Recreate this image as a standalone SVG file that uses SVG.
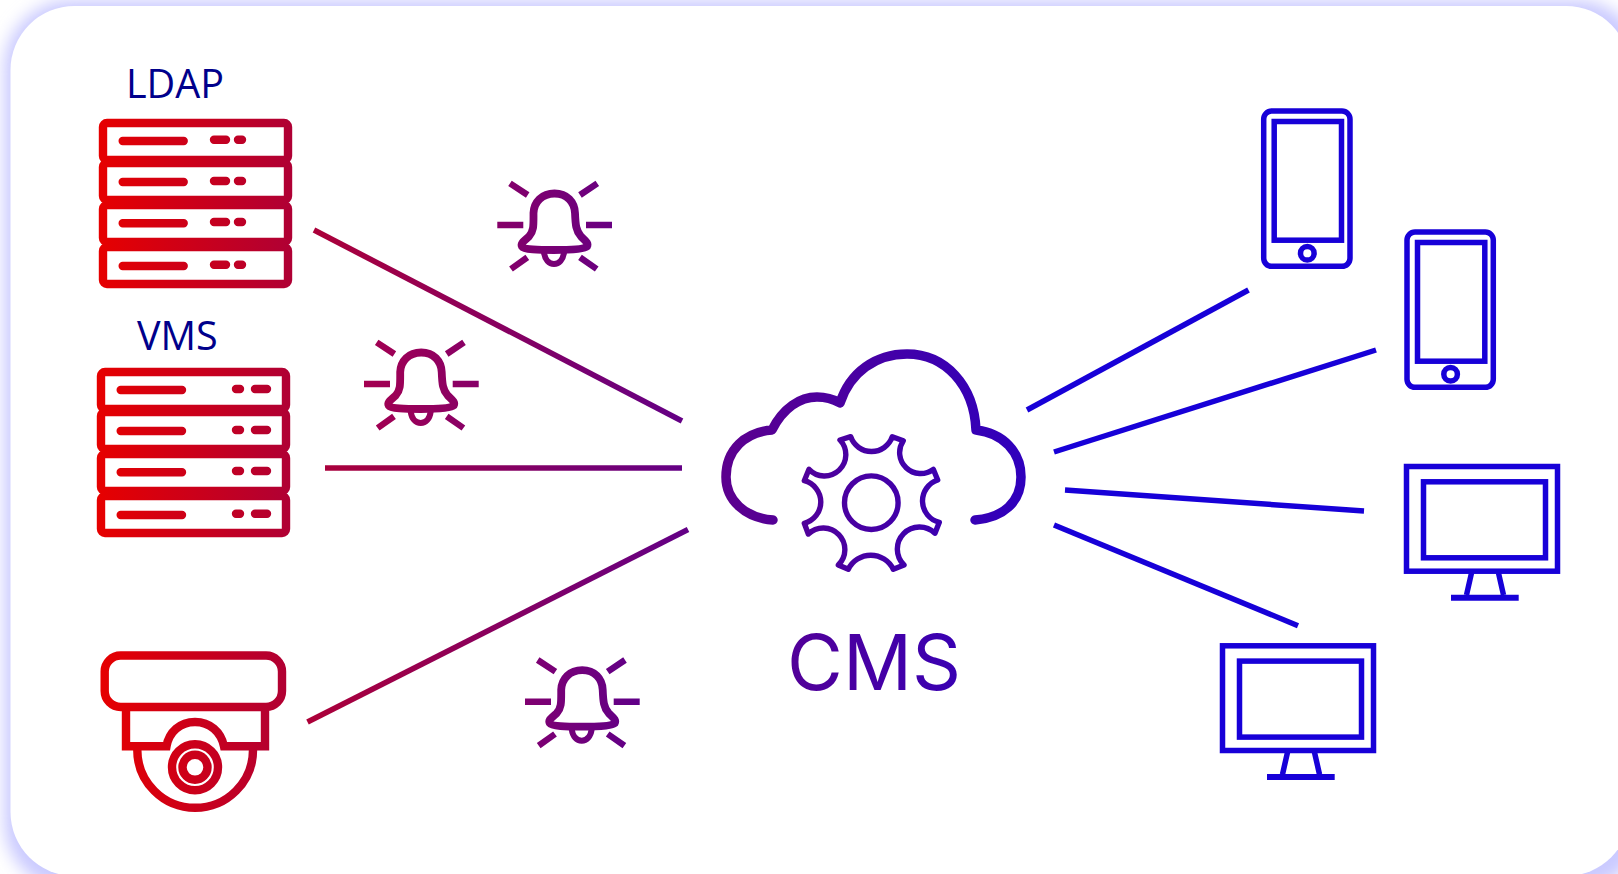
<svg xmlns="http://www.w3.org/2000/svg" width="1618" height="874" viewBox="0 0 1618 874">
<style>
.s{fill:none;stroke:url(#g);stroke-width:8.400;stroke-linejoin:round}
.bar{fill:none;stroke:url(#g);stroke-width:8.400;stroke-linecap:round}
.l{fill:none;stroke:url(#g);stroke-width:5.600}
.c{fill:none;stroke:url(#g);stroke-width:8.400}
.b{fill:none;stroke:#1700d8;stroke-width:5.500}
.bell{fill:none;stroke-width:7.800;stroke-linejoin:round}
.ray{stroke-width:6.400;fill:none}
.lbl{font-family:"Open Sans",sans-serif;font-size:39.500px;fill:#00008b}
</style>
<defs>
<linearGradient id="g" gradientUnits="userSpaceOnUse" x1="99" y1="0" x2="1240" y2="0">
<stop offset="0" stop-color="#e60000"/>
<stop offset=".167" stop-color="#b00034"/>
<stop offset="0.548" stop-color="#5c008e"/>
<stop offset="0.807" stop-color="#3000bc"/>
<stop offset="1" stop-color="#1400dc"/>
</linearGradient>
<linearGradient id="g1" gradientUnits="userSpaceOnUse" x1="497" y1="0" x2="612" y2="0"><stop offset="0" stop-color="#860068"/><stop offset="1" stop-color="#680082"/></linearGradient>
<linearGradient id="g2" gradientUnits="userSpaceOnUse" x1="497" y1="0" x2="612" y2="0"><stop offset="0" stop-color="#a40050"/><stop offset="1" stop-color="#860068"/></linearGradient>
<linearGradient id="g3" gradientUnits="userSpaceOnUse" x1="497" y1="0" x2="612" y2="0"><stop offset="0" stop-color="#800070"/><stop offset="1" stop-color="#600088"/></linearGradient>
<filter id="blur" x="-5%" y="-5%" width="110%" height="110%"><feGaussianBlur stdDeviation="8"/></filter>
<g id="bellshape">
<path class="bell" d="M554.500 193.500C567 193.500 574.500 202 575 213C575.500 225 576 231 581 236.500C585 240.500 589 243 587 246.500C584 249.500 570 250 554 250C538 250 524 249.500 522 246.500C520 243 525 240.500 529 236.500C534 231 533.500 225 533.500 213C534 202 542 193.500 554.500 193.500Z"/>
<path class="bell" style="stroke-width:6" d="M544 252.500C545 260 549 264 554 264C559 264 563 260 564 252.500"/>
<path class="ray" d="M497.300 225H523.300M586 225H612M510 183.300L527.700 195M597.300 183.300L580 195M511 269L527.300 257.300M596.700 269L580 257.300"/>
</g>
<g id="phone">
<rect class="b" x="1263.700" y="111" width="86.300" height="155.300" rx="8"/>
<rect class="b" x="1274.200" y="121.500" width="67.300" height="118.700"/>
<circle class="b" cx="1307.300" cy="253.300" r="6.800"/>
</g>
<g id="monitor">
<rect class="b" x="1406.500" y="466.500" width="151" height="104.700"/>
<rect class="b" x="1423.500" y="481.800" width="122" height="76"/>
<path class="b" d="M1471.500 573L1466.500 595M1498.500 573L1503.500 595"/>
<path class="b" style="stroke-width:6" d="M1451 597.700H1518.700"/>
</g>
</defs>
<rect id="page" width="1618" height="874" fill="#ffffff"/>
<rect id="card-shadow" x="4" y="0" width="1640" height="890" rx="68" fill="#cacaff" filter="url(#blur)"/>
<rect id="card" x="10.500" y="6" width="1619.500" height="870" rx="64" fill="#ffffff"/>

<g id="connectors">
<path class="l" d="M314 230L682 421"/>
<path class="l" d="M325 468H682"/>
<path class="l" d="M307.500 722L688 529.500"/>
<path class="b" d="M1027 410L1248.500 290"/>
<path class="b" d="M1054 452L1376 350"/>
<path class="b" d="M1065 490L1364 511"/>
<path class="b" d="M1054 525L1298 625.700"/>
</g>

<g id="ldap">
<text class="lbl" x="126" y="97.500">LDAP</text>
<rect class="s" x="103" y="123" width="185" height="37" rx="4"/>
<rect class="s" x="103" y="163" width="185" height="37" rx="4"/>
<rect class="s" x="103" y="205" width="185" height="37" rx="4"/>
<rect class="s" x="103" y="247" width="185" height="37" rx="4"/>
<path class="bar" d="M122.700 141H183.700M122.700 182H183.700M122.700 223.300H183.700M122.700 266H183.700"/>
<path class="bar" d="M214 139.700H226M238 139.700H242M214 181H226M238 181H242M214 222H226M238 222H242M214 264.700H226M238 264.700H242"/>
</g>

<g id="vms">
<text class="lbl" x="137" y="350">VMS</text>
<rect class="s" x="101" y="372" width="185" height="37" rx="4"/>
<rect class="s" x="101" y="412" width="185" height="37" rx="4"/>
<rect class="s" x="101" y="454" width="185" height="37" rx="4"/>
<rect class="s" x="101" y="496" width="185" height="37" rx="4"/>
<path class="bar" d="M120.700 390H182M120.700 431H182M120.700 472.300H182M120.700 515H182"/>
<path class="bar" d="M236 389H240M255 389H267M236 430H240M255 430H267M236 471H240M255 471H267M236 513.700H240M255 513.700H267"/>
</g>

<g id="camera">
<rect class="s" x="104.700" y="655.500" width="177.300" height="51.500" rx="16"/>
<path class="c" d="M126 707V746.300H166.500C169 732 180 722 195 722C210 722 221 732 224 746.300H265V707"/>
<path class="c" d="M137.300 750A57.700 57.700 0 0 0 253 750"/>
<circle class="s" cx="195" cy="767.300" r="23"/>
<circle class="s" cx="195" cy="767.300" r="12.500"/>
</g>

<g id="bell-1" stroke="url(#g1)"><use href="#bellshape"/></g>
<g id="bell-2" stroke="url(#g2)" transform="translate(-133.300 159)"><use href="#bellshape"/></g>
<g id="bell-3" stroke="url(#g3)" transform="translate(27.700 476.700)"><use href="#bellshape"/></g>

<g id="cms">
<path class="s" style="stroke-width:9.500;stroke-linecap:round" d="M773 520C745 518 726 500 726 477C726 450 745 432 772 430C783 408 800 397 817 397C825 397 833 399 840 403C850 372 876 354 907 354C945 354 974 385 976 430C1003 433 1021 452 1021 477C1021 502 1003 518 975 520"/>
<path class="s" style="stroke-width:5.400" d="M850.700 436.700A22 22 0 0 0 892.300 436.700L903.300 440.700A21 21 0 0 0 933.300 469.300L937.700 480A22 22 0 0 0 939.300 522.300L935 533.300A21 21 0 0 0 904 565L893.300 569.300A25 25 0 0 0 848.300 569.300L838.300 565A21 21 0 0 0 808.300 534L804.300 523.300A22 22 0 0 0 804.300 480.700L809 469.300A21 21 0 0 0 840 440Z"/>
<circle class="s" style="stroke-width:5.400" cx="871.300" cy="502.700" r="26.800"/>
<text x="787" y="690" style="font-family:Inter,sans-serif;font-size:76.500px;fill:url(#g)">CMS</text>
</g>

<g id="phone-1"><use href="#phone"/></g>
<g id="phone-2"><use href="#phone" transform="translate(143.300 121)"/></g>
<g id="monitor-1"><use href="#monitor"/></g>
<g id="monitor-2"><use href="#monitor" transform="translate(-184 179.300)"/></g>
</svg>
